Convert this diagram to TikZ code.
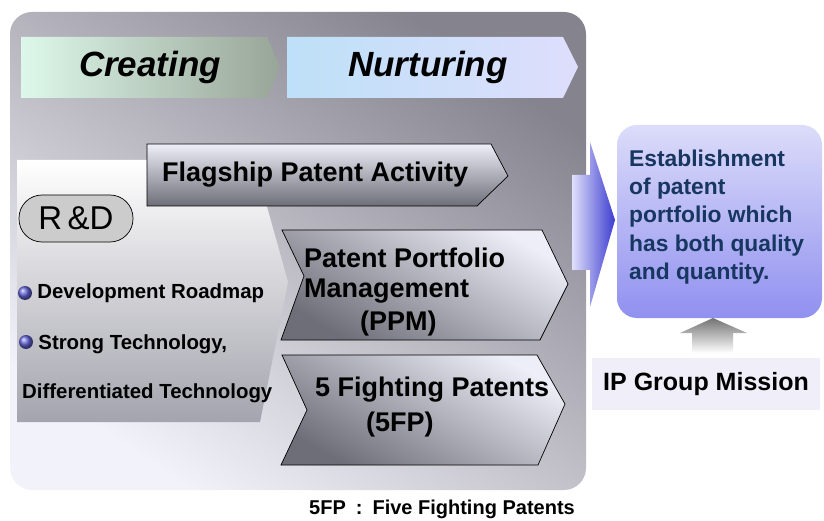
\documentclass[tikz,border=0pt]{standalone}
\usepackage{fontspec}
\setmainfont{Liberation Sans}
\usetikzlibrary{positioning}

\definecolor{panelDark}{HTML}{85838D}
\definecolor{panelLight}{HTML}{F2F2FA}
\definecolor{mintL}{HTML}{DDF8EA}
\definecolor{mintM}{HTML}{C6DFD0}
\definecolor{mintR}{HTML}{98A598}
\definecolor{skyL}{HTML}{BEE0F8}
\definecolor{skyM}{HTML}{C6C8F4}
\definecolor{skyR}{HTML}{DEDEFC}
\definecolor{steelTop}{HTML}{EEEEF8}
\definecolor{steelBot}{HTML}{6E6E78}
\definecolor{rdBot}{HTML}{A4A4AE}
\definecolor{missTop}{HTML}{DCDCFA}
\definecolor{missBot}{HTML}{9090F0}
\definecolor{navy}{HTML}{173660}
\definecolor{arrowBlue}{HTML}{3C3CD0}
\definecolor{arrowPale}{HTML}{E0E0FC}
\definecolor{ipFill}{HTML}{F0EEF8}
\definecolor{bulletBlue}{HTML}{6464D8}

\begin{document}
\begin{tikzpicture}[
    x=1pt, y=-1pt,
   band/.style = {shade, draw=none},
  steel/.style = {shade, draw=black, line width=0.7pt,
                  top color=steelTop, bottom color=steelBot},
heading/.style = {font=\fontsize{35}{35}\selectfont\bfseries\itshape,
                  inner sep=0pt},
bigtext/.style = {font=\fontsize{27}{30}\selectfont\bfseries,
                  align=left, inner sep=0pt, anchor=west},
 rdtext/.style = {font=\fontsize{20.4}{21}\selectfont\bfseries,
                  inner sep=0pt, anchor=west},
 bullet/.style = {circle, inner sep=0pt, minimum size=14pt,
                  shade, ball color=bulletBlue}
                    ]
\useasboundingbox (0,0) rectangle (824,521);
% the grey panel
\path[band, rounded corners=22, top color=panelDark,
      bottom color=panelLight, shading angle=-35]
      (10,12) rectangle (586,490);
% the bands at the top
\path[band, left color=mintL, middle color=mintM, right color=mintR]
      (21,37) -- (267,37) -- (280,67) -- (267,98) -- (21,98) -- cycle;
\path[band, left color=skyL, middle color=skyM, right color=skyR]
      (287,37) -- (563,37) -- (578,67) -- (563,98) -- (287,98) -- cycle;
\node (creating)  [heading] at (150,67) {Creating};
\node (nurturing) [heading] at (428,67) {Nurturing};

% the R&D block on the left
\path[band, top color=white, bottom color=rdBot]
      (17,160) -- (254,160) -- (288,282) -- (260,422) -- (17,422) -- cycle;
\node (rd) [draw=black, line width=0.7pt, fill=black!20, rounded corners=23,
            minimum width=114pt, minimum height=47pt, inner sep=0pt,
            font=\fontsize{33}{33}\selectfont] at (76,218.5) {R\,\&D};
\node (b1) [bullet] at (25,293) {};
\node (roadmap) [rdtext, right=5pt of b1] {Development Roadmap};
\node (b2) [bullet] at (26,342) {};
\node (strong)  [rdtext, right=5pt of b2, yshift=-2pt] {Strong Technology,};
\node (differ)  [rdtext] at (22,393) {Differentiated Technology};

% the three arrows in the middle
\path[steel]
      (147,144) -- (491,144) -- (508,176) -- (477,206) -- (147,206) -- cycle;
\path[steel, shading angle=-30]
      (282,230) -- (542,230) -- (568,284) -- (540,340) -- (281,340)
      -- (304,276) -- cycle;
\path[steel, shading angle=-30]
      (282,355) -- (537,355) -- (565,404) -- (538,465) -- (281,465)
      -- (307,410) -- cycle;
\node (flagship) [bigtext] at (162,175) {Flagship Patent Activity};
\node (ppm)  [bigtext] at (304,292)
      {Patent Portfolio\\Management\\[3pt]\hspace*{56pt}(PPM)};
\node (fight) [bigtext] at (315,407)
      {5 Fighting Patents\\[5pt]\hspace*{51pt}(5FP)};

% the mission on the right
\path[band, left color=arrowPale, right color=arrowBlue]
      (572,175) -- (590,175) -- (590,142) -- (615,220) -- (590,307)
      -- (590,270) -- (572,270) -- cycle;
\path[band, rounded corners=20, top color=missTop, bottom color=missBot]
      (617,125) rectangle (822,318);
\node (mission) [anchor=west, align=left, inner sep=0pt, text=navy,
                 font=\fontsize{22.8}{28.3}\selectfont\bfseries]
      at (629,217) {Establishment\\of patent\\portfolio which\\has both quality\\and quantity.};
\path[band, top color=black!55, bottom color=white]
      (680,333) -- (713,318) -- (747,333) -- (733,333) -- (733,353)
      -- (692,353) -- (692,333) -- cycle;
\node (ipgroup) [fill=ipFill, minimum width=228pt, minimum height=52pt,
                 inner sep=0pt, font=\fontsize{25}{25}\selectfont\bfseries]
      at (706,384) {IP Group Mission};

% the note below
\node (note) [font=\fontsize{20}{20}\selectfont\bfseries, inner sep=0pt]
      at (442,509) {5FP\enspace:\enspace Five Fighting Patents};
\end{tikzpicture}
\end{document}
